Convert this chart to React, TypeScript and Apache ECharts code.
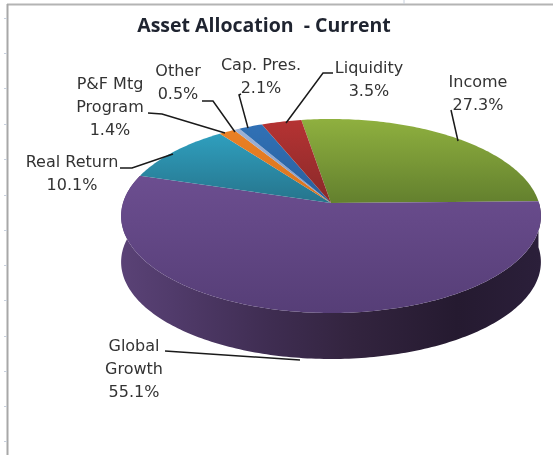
import React, { useEffect, useRef } from "react";
import * as echarts from "echarts";

const categories = ["Income", "Global Growth", "Real Return", "P&F Mtg Program", "Other", "Cap. Pres.", "Liquidity"];
const shares = [27.3, 55.1, 10.1, 1.4, 0.5, 2.1, 3.5];
const titleText = "Asset Allocation  - Current";

const topColors: [string, string][] = [
  ["#8fb03f", "#63802e"],
  ["#6c4e90", "#563e77"],
  ["#2f9fbe", "#26748c"],
  ["#ea8024", "#d9741f"],
  ["#9db2d6", "#8298c4"],
  ["#3071b6", "#2a5f9c"],
  ["#b53333", "#892929"],
];

const CX = 331, CY = 203, R = 208, A = 95.26, K = 0.134, DEPTH = 46, START = -9.3;

function project(deg: number, shift = 0): number[] {
  const t = (deg * Math.PI) / 180;
  const d = 1 + K * Math.cos(t);
  return [CX + (R * Math.sin(t)) / d, CY - (A * Math.cos(t)) / d + shift];
}

function arcPoints(a: number, b: number, shift = 0): number[][] {
  const n = Math.max(2, Math.ceil(Math.abs(b - a)));
  const out: number[][] = [];
  for (let i = 0; i <= n; i++) out.push(project(a + ((b - a) * i) / n, shift));
  return out;
}

const total = shares.reduce((s, v) => s + v, 0);

function renderSlice(params: any, api: any) {
  const i = params.dataIndex;
  let before = 0;
  for (let k = 0; k < i; k++) before += shares[k];
  const a = START + (before / total) * 360;
  const b = a + (api.value(0) / total) * 360;
  const children: any[] = [];
  if (i === 1) {
    children.push({
      type: "polygon",
      shape: { points: [...arcPoints(a, b), ...arcPoints(b, a, DEPTH)] },
      style: {
        fill: {
          type: "linear", x: 0, y: 0, x2: 1, y2: 0,
          colorStops: [
            { offset: 0, color: "#5a4276" },
            { offset: 0.12, color: "#513b6b" },
            { offset: 0.35, color: "#3f2d52" },
            { offset: 0.55, color: "#33243f" },
            { offset: 0.8, color: "#251a30" },
            { offset: 1, color: "#2b1f3a" },
          ],
        },
      },
    });
  }
  children.push({
    type: "polygon",
    shape: { points: [[CX, CY], ...arcPoints(a, b)] },
    style: {
      fill: {
        type: "linear", x: 0, y: 0, x2: 0, y2: 1,
        colorStops: [
          { offset: 0, color: topColors[i][0] },
          { offset: 1, color: topColors[i][1] },
        ],
      },
    },
  });
  return { type: "group", children };
}

const labelLayout: { text: string; x: number; y: number }[] = [
  { text: "Income\n27.3%", x: 478, y: 93 },
  { text: "Global\nGrowth\n55.1%", x: 134, y: 368 },
  { text: "Real Return\n10.1%", x: 72, y: 173 },
  { text: "P&F Mtg\nProgram\n1.4%", x: 110, y: 106 },
  { text: "Other\n0.5%", x: 178, y: 82 },
  { text: "Cap. Pres.\n2.1%", x: 261, y: 76 },
  { text: "Liquidity\n3.5%", x: 369, y: 79 },
];

const leaders: number[][][] = [
  [[451, 110], [458, 141]],
  [[165, 351], [300, 360]],
  [[120, 168], [132, 168], [173, 154]],
  [[148, 113], [162, 114], [225, 133]],
  [[202, 101], [213, 101], [235, 132]],
  [[241, 94], [239, 95], [248, 128]],
  [[333, 73], [323, 73], [286, 123]],
];

const rowTicks = [18, 53, 88, 124, 159, 195, 230, 265, 300, 336, 371, 406, 441];

export default function App() {
  const ref = useRef<HTMLDivElement>(null);
  useEffect(() => {
    document.body.style.margin = "0";
    const chart = echarts.init(ref.current!, undefined, { renderer: "svg" });
    const graphics: any[] = [
      { type: "line", shape: { x1: 7, y1: 4.5, x2: 553, y2: 4.5 }, style: { stroke: "#b4b4b4", lineWidth: 2 } },
      { type: "line", shape: { x1: 7.5, y1: 4, x2: 7.5, y2: 455 }, style: { stroke: "#a8a8a8", lineWidth: 2 } },
      { type: "line", shape: { x1: 404, y1: 0, x2: 404, y2: 4 }, style: { stroke: "#c8d0dc", lineWidth: 1 } },
      ...rowTicks.map((y) => ({
        type: "line",
        shape: { x1: 4, y1: y + 0.5, x2: 7, y2: y + 0.5 },
        style: { stroke: "#c8d0dc", lineWidth: 1 },
      })),
      ...leaders.map((points) => ({
        type: "polyline",
        z: 100,
        shape: { points },
        style: { stroke: "#1a1a1a", lineWidth: 1.5, fill: "none" },
      })),
      ...labelLayout.map((l) => ({
        type: "text",
        z: 101,
        x: l.x,
        y: l.y,
        style: {
          text: l.text,
          fill: "#333333",
          font: '16px "DejaVu Sans"',
          lineHeight: 23,
          align: "center",
          verticalAlign: "middle",
        },
      })),
      {
        type: "text",
        z: 101,
        x: 264,
        y: 24,
        style: {
          text: titleText,
          fill: "#1f2430",
          font: 'bold 19.5px "Open Sans"',
          align: "center",
          verticalAlign: "middle",
        },
      },
    ];
    chart.setOption({
      animation: false,
      backgroundColor: "#ffffff",
      graphic: graphics,
      series: [
        {
          type: "custom",
          name: titleText,
          coordinateSystem: "none",
          silent: true,
          renderItem: renderSlice,
          data: shares.map((v, i) => ({ name: categories[i], value: [v] })),
        },
      ],
    });
    return () => chart.dispose();
  }, []);
  return <div ref={ref} style={{ width: 553, height: 455, overflow: "hidden", filter: "blur(0.35px)" }} />;
}
